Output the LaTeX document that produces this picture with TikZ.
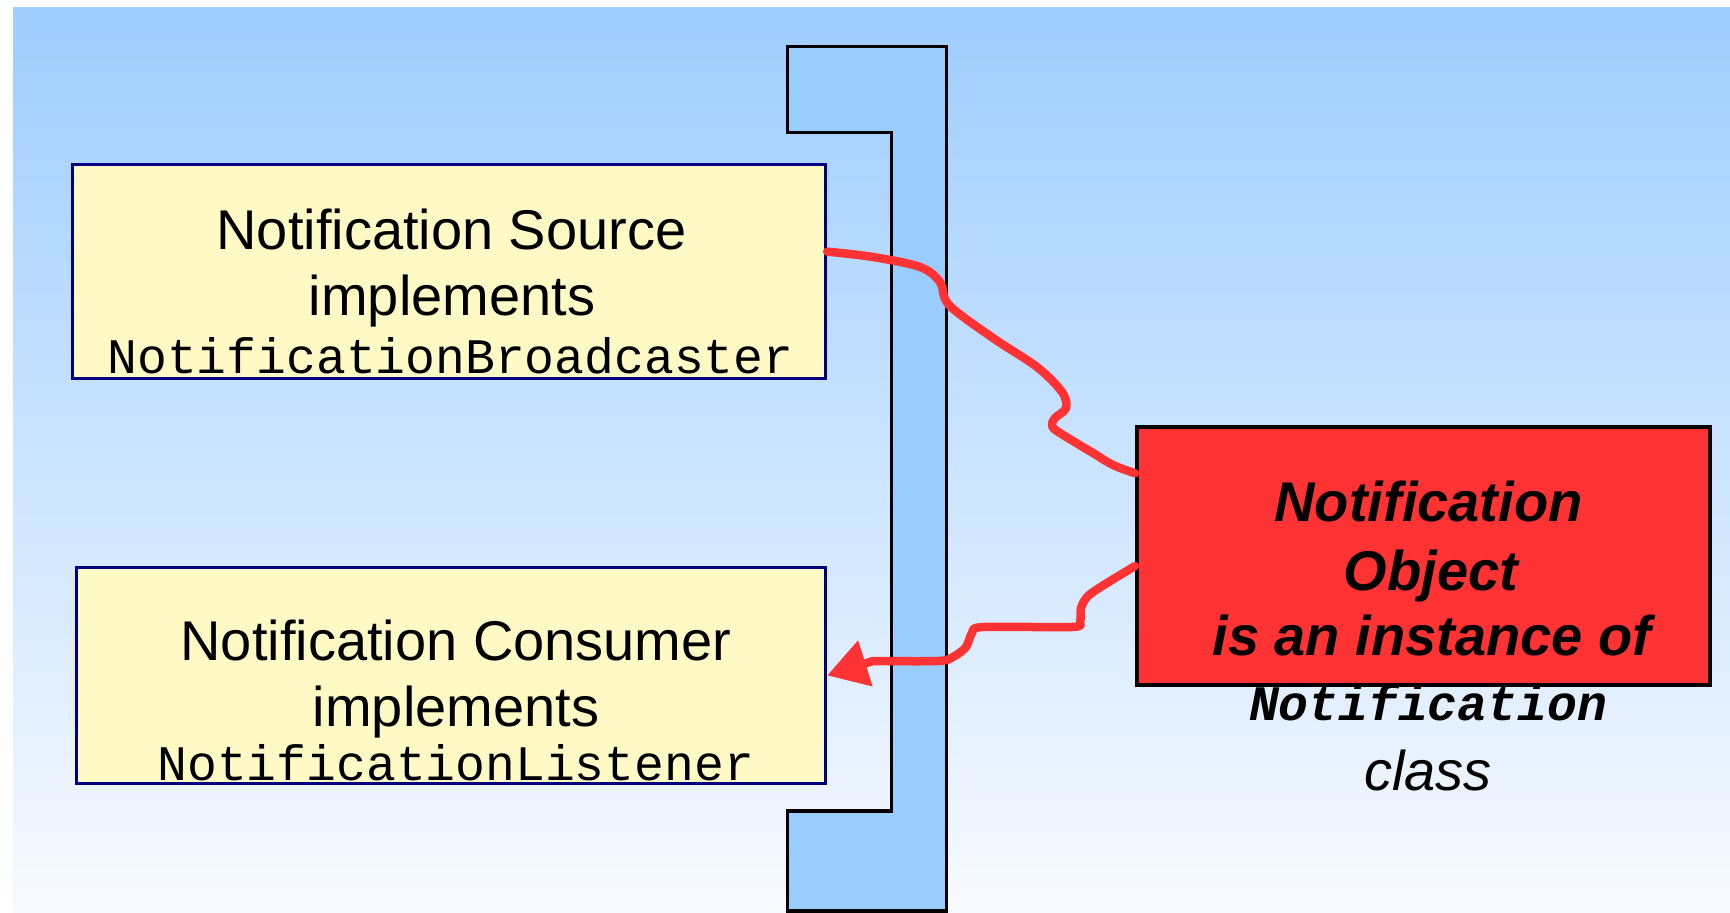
\documentclass[tikz,border=0pt]{standalone}
\usepackage{fontspec}
\setmainfont{Liberation Sans}
\setmonofont{Liberation Mono}
\usetikzlibrary{arrows.meta}

\definecolor{bgtop}{RGB}{158,205,255}
\definecolor{bgbot}{RGB}{248,250,255}
\definecolor{barblue}{RGB}{153,204,255}
\definecolor{notefill}{RGB}{255,250,197}
\definecolor{noteline}{RGB}{0,0,128}
\definecolor{objred}{RGB}{255,51,51}

\begin{document}
\begin{tikzpicture}[x=1pt,y=-1pt,
  interface/.style={draw=noteline, line width=3pt, fill=notefill, rectangle, inner sep=0pt},
  objbox/.style={draw=black, line width=4pt, fill=objred, rectangle, inner sep=0pt},
  sanstext/.style={anchor=base, inner sep=0pt, font=\fontsize{56}{66}\selectfont},
  monotext/.style={anchor=base, inner sep=0pt, font=\fontsize{49.7}{58}\selectfont\ttfamily},
  objtext/.style={anchor=base, inner sep=0pt, font=\fontsize{56}{66}\selectfont\bfseries\itshape},
  flow/.style={draw=objred, line width=8.5pt, line cap=round, line join=round}]

\useasboundingbox (0,0) rectangle (1730,913);

% backdrop
\shade[top color=bgtop, bottom color=bgbot] (13,7) rectangle (1730,913);

% the bar between the two sides
\draw[fill=barblue, line width=3.5pt, line join=miter]
  (787.7,46.3) -- (946.7,46.3) -- (946.7,911) -- (787.7,911) -- (787.7,811)
  -- (891.7,811) -- (891.7,132.5) -- (787.7,132.5) -- cycle;

% boxes
\node[interface, minimum width=753.2pt, minimum height=214pt] (src) at (449.1,271.45) {};
\node[interface, minimum width=749.7pt, minimum height=215.3pt] (cons) at (450.85,675.4) {};
\node[objbox, minimum width=573pt, minimum height=258pt] (obj) at (1423.5,556) {};

% source to notification object
\draw[flow] plot[smooth, tension=0.55] coordinates {(src.3) (873,257) (920,267) (940,282)
  (949,305) (993,338) (1037,367) (1062,392) (1066,408) (1055,418) (1052,426) (1060,433)
  (1093,453) (1113,465) (obj.164.6)};

% notification object to consumer
\draw[flow, -{Triangle[length=40pt,width=46pt]}] plot[smooth, tension=0.5] coordinates {(obj.182.8)
  (1107,583) (1088,596) (1081,608) (1080,622) (1072,627) (983,627) (972,633) (966,647)
  (953,657) (938,661) (873,661)} -- (cons.east);

% texts
\node[sanstext] (srcA) at (451.5,249.3) {Notification Source};
\node[sanstext] (srcB) at (452,315) {implements};
\node[monotext] (srcC) at (450.5,373.3) {NotificationBroadcaster};

\node[sanstext] (consA) at (456,660) {Notification Consumer};
\node[sanstext] (consB) at (456,726) {implements};
\node[monotext] (consC) at (455.7,780) {NotificationListener};

\node[objtext] (objA) at (1428.5,521) {Notification};
\node[objtext] (objB) at (1431,590) {Object};
\node[objtext] (objC) at (1432,655) {is an instance of};

\node[monotext, font=\fontsize{49.7}{58}\selectfont\ttfamily\bfseries\itshape] (clsA) at (1428,720.7) {Notification};
\node[sanstext, font=\fontsize{56}{66}\selectfont\itshape] (clsB) at (1428,790) {class};
\end{tikzpicture}
\end{document}
